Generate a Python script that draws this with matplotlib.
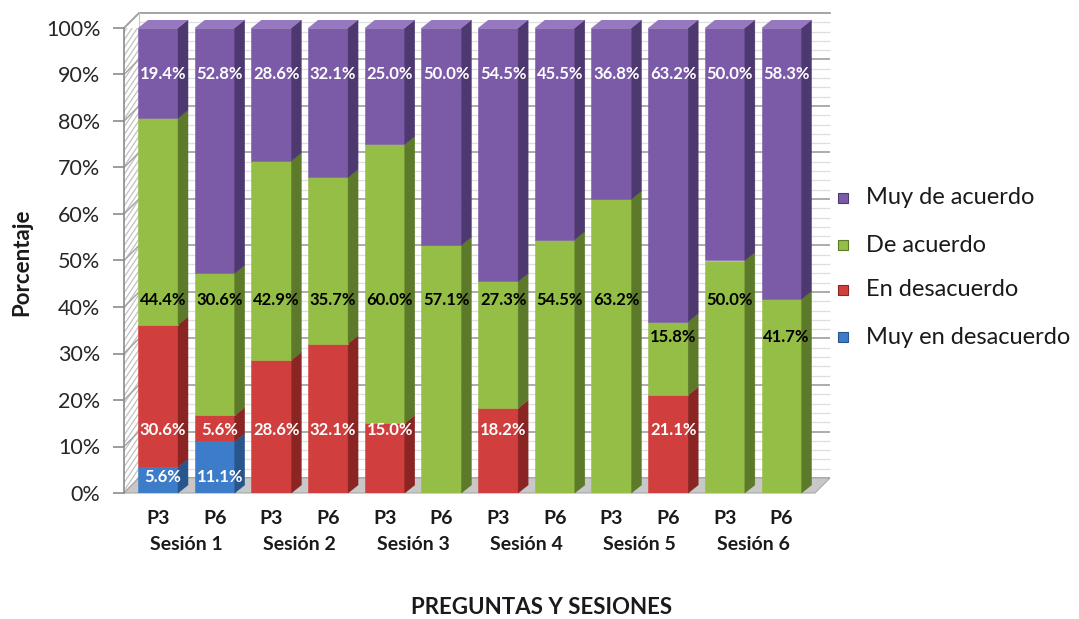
import matplotlib
matplotlib.use("Agg")
import matplotlib.pyplot as plt
import matplotlib.transforms as mtransforms
from matplotlib.patches import Polygon, Rectangle
import numpy as np

plt.rcParams['font.family'] = ['Lato', 'DejaVu Sans']

# ---- data -------------------------------------------------------------
sessions = ["Sesión 1", "Sesión 2", "Sesión 3", "Sesión 4", "Sesión 5", "Sesión 6"]
questions = ["P3", "P6"]
series_names = ["Muy en desacuerdo", "En desacuerdo", "De acuerdo", "Muy de acuerdo"]

muy_en_desacuerdo = [5.6, 11.1, 0, 0, 0, 0, 0, 0, 0, 0, 0, 0]
en_desacuerdo = [30.6, 5.6, 28.6, 32.1, 15.0, 0, 18.2, 0, 0, 21.1, 0, 0]
de_acuerdo = [44.4, 30.6, 42.9, 35.7, 60.0, 57.1, 27.3, 54.5, 63.2, 15.8, 50.0, 41.7]
muy_de_acuerdo = [19.4, 52.8, 28.6, 32.1, 25.0, 50.0, 54.5, 45.5, 36.8, 63.2, 50.0, 58.3]

y_ticks = [0, 10, 20, 30, 40, 50, 60, 70, 80, 90, 100]

# ---- styling -----------------------------------------------------------
front_cols = ["#3d7cc9", "#d03f3d", "#95be46", "#7b5ba7"]
top_cols = ["#5e9ae0", "#e0605c", "#b2d66a", "#9678c1"]
side_cols = ["#28558c", "#8a2523", "#5c7a29", "#4d386f"]
label_cols = ["white", "white", "black", "white"]
text_col = "#1a1a1a"

W_PX, H_PX, DPI = 1079, 619, 100
fig = plt.figure(figsize=(W_PX / DPI, H_PX / DPI), dpi=DPI)

ax_left_px, ax_right_px = 124, 815
ax_top_px, ax_bot_px = 28, 493
ax = fig.add_axes([ax_left_px / W_PX, 1 - ax_bot_px / H_PX,
                   (ax_right_px - ax_left_px) / W_PX,
                   (ax_bot_px - ax_top_px) / H_PX])

XMIN, XMAX = -0.6, 11.59
ax.set_xlim(XMIN, XMAX)
ax.set_ylim(0, 100)
px_per_x = (ax_right_px - ax_left_px) / (XMAX - XMIN)
px_per_y = (ax_bot_px - ax_top_px) / 100.0

BAR_W = 40 / px_per_x
BAR_DX, BAR_DY = 10 / px_per_x, 8 / px_per_y
WALL_DX, WALL_DY = 15 / px_per_x, 15 / px_per_y

# ---- side wall with diagonal hatching ------------------------------------
side_wall = Polygon([(XMIN, 0), (XMIN, 100), (XMIN + WALL_DX, 100 + WALL_DY),
                     (XMIN + WALL_DX, WALL_DY)], closed=True, facecolor="white",
                    lw=0, zorder=0.5, clip_on=False)
ax.add_patch(side_wall)
for y0 in np.arange(-8, 104, 1.7):
    ln, = ax.plot([XMIN, XMIN + WALL_DX], [y0, y0 + 4.8], color="#c2c2c2",
                  lw=0.9, zorder=0.6)
    ln.set_clip_path(side_wall)

# ---- back wall gridlines -------------------------------------------------
for v in np.arange(0, 101, 2):
    major = v % 10 == 0
    col = "#a6a6a6" if major else "#dedede"
    lw = 1.3 if major else 0.9
    ax.plot([XMIN + WALL_DX, XMAX + WALL_DX], [v + WALL_DY, v + WALL_DY],
            color=col, lw=lw, zorder=1, clip_on=False, solid_capstyle="butt")
    if major:
        ax.plot([XMIN, XMIN + WALL_DX], [v, v + WALL_DY], color="#a6a6a6",
                lw=1.1, zorder=1, clip_on=False)

ax.plot([XMIN, XMIN + WALL_DX, XMAX + WALL_DX], [100, 100 + WALL_DY, 100 + WALL_DY],
        color="#a6a6a6", lw=1.3, zorder=1, clip_on=False)
ax.plot([XMIN + WALL_DX, XMIN + WALL_DX], [WALL_DY, 100 + WALL_DY],
        color="#c8c8c8", lw=0.8, zorder=1, clip_on=False)

# floor
ax.add_patch(Polygon([(XMIN, 0), (XMAX, 0), (XMAX + WALL_DX, WALL_DY),
                      (XMIN + WALL_DX, WALL_DY)], closed=True, facecolor="#c8c8c8",
                     edgecolor="#a8a8a8", lw=0.8, zorder=1.5, clip_on=False))

# ---- stacked 3D bars -----------------------------------------------------
values = np.array([muy_en_desacuerdo, en_desacuerdo, de_acuerdo, muy_de_acuerdo])
totals = values.sum(axis=0)
shares = values / totals * 100
x = np.arange(values.shape[1])

bottoms = np.zeros(len(x))
tops_all = np.cumsum(shares, axis=0)
for s in range(values.shape[0]):
    ax.bar(x, shares[s], bottom=bottoms, width=BAR_W, color=front_cols[s],
           edgecolor=front_cols[s], lw=0.4, zorder=3)
    for i in range(len(x)):
        h = shares[s, i]
        if h <= 0:
            continue
        x1 = x[i] + BAR_W / 2
        y0, y1 = bottoms[i], bottoms[i] + h
        ax.add_patch(Polygon([(x1, y0), (x1 + BAR_DX, y0 + BAR_DY),
                              (x1 + BAR_DX, y1 + BAR_DY), (x1, y1)], closed=True,
                             facecolor=side_cols[s], edgecolor=side_cols[s], lw=0.3,
                             zorder=3, clip_on=False))
        if np.isclose(y1, tops_all[-1, i]):
            x0 = x[i] - BAR_W / 2
            ax.add_patch(Polygon([(x0, y1), (x1, y1), (x1 + BAR_DX, y1 + BAR_DY),
                                  (x0 + BAR_DX, y1 + BAR_DY)], closed=True,
                                 facecolor=top_cols[s], lw=0, zorder=3, clip_on=False))
    bottoms = bottoms + shares[s]

# ---- value labels --------------------------------------------------------
label_heights = [3.5, 13.5, 41.5, 90.0]
for s in range(values.shape[0]):
    for i in range(len(x)):
        v = values[s, i]
        if v <= 0:
            continue
        yl = label_heights[s]
        if s == 2 and tops_all[2, i] < 45:
            yl = 33.5
        ax.text(x[i] + BAR_DX / 2, yl, f"{v:.1f}%", ha="center", va="center",
                fontsize=12, fontweight="bold", color=label_cols[s], zorder=6)

# ---- axes ------------------------------------------------------------------
for sp in ["top", "right", "bottom"]:
    ax.spines[sp].set_visible(False)
ax.spines["left"].set_color("#8c8c8c")
ax.spines["left"].set_linewidth(1.2)
ax.set_yticks(y_ticks)
ax.set_yticklabels([f"{t}%" for t in y_ticks], fontsize=15.5, color="#262626")
ax.tick_params(axis="y", length=8, width=1.2, color="#8c8c8c", pad=9)
ax.set_xticks([])
ax.patch.set_alpha(0)

trans = mtransforms.blended_transform_factory(ax.transData, fig.transFigure)
for i in range(len(x)):
    ax.text(x[i], 1 - 519 / H_PX, questions[i % 2], transform=trans, ha="center",
            va="center", fontsize=14, fontweight="bold", color=text_col)
for k, name in enumerate(sessions):
    ax.text(2 * k + 0.5, 1 - 545 / H_PX, name, transform=trans, ha="center",
            va="center", fontsize=14, fontweight="bold", color=text_col)

fig.text(542 / W_PX, 1 - 607 / H_PX, "PREGUNTAS Y SESIONES", ha="center",
         va="center", fontsize=16, fontweight="bold", color=text_col)
fig.text(22 / W_PX, 1 - 262 / H_PX, "Porcentaje", ha="center", va="center",
         rotation=90, fontsize=16, fontweight="bold", color=text_col)

# ---- legend --------------------------------------------------------------
legend_y = [198, 245, 290, 337]
for row, s in enumerate([3, 2, 1, 0]):
    yc = legend_y[row]
    fig.add_artist(Rectangle((838 / W_PX, 1 - (yc + 5) / H_PX), 10 / W_PX, 10 / H_PX,
                             transform=fig.transFigure, facecolor=front_cols[s],
                             edgecolor=side_cols[s], lw=0.8))
    fig.text(866 / W_PX, 1 - yc / H_PX, series_names[s], ha="left", va="center",
             fontsize=17, color=text_col)

fig.savefig("out.png", dpi=DPI)
